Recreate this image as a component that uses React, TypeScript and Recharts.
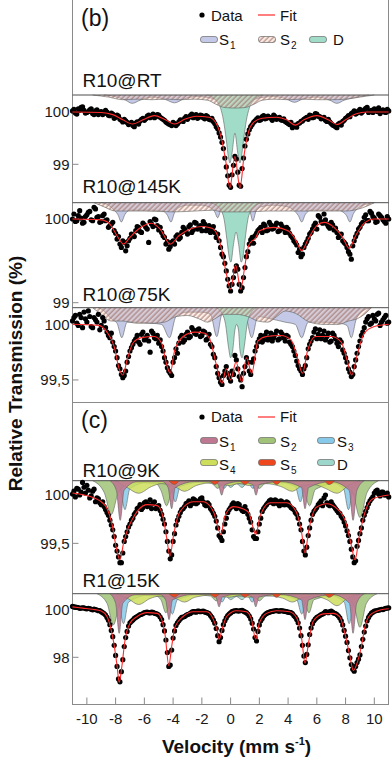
import React from "react";
import { ComposedChart, Scatter, Line, Area, XAxis, YAxis, ReferenceLine } from "recharts";

type Pair = [number, number];

// channel velocities (mm/s): even and odd channels
const velocity = [
  -11, -10.8, -10.6, -10.4, -10.2, -10, -9.8, -9.6, -9.4, -9.2,
  -9, -8.8, -8.6, -8.4, -8.2, -8, -7.8, -7.6, -7.4, -7.2,
  -7, -6.8, -6.6, -6.4, -6.2, -6, -5.8, -5.6, -5.4, -5.2,
  -5, -4.8, -4.6, -4.4, -4.2, -4, -3.8, -3.6, -3.4, -3.2,
  -3, -2.8, -2.6, -2.4, -2.2, -2, -1.8, -1.6, -1.4, -1.2,
  -1, -0.8, -0.6, -0.4, -0.2, 0, 0.2, 0.4, 0.6, 0.8,
  1, 1.2, 1.4, 1.6, 1.8, 2, 2.2, 2.4, 2.6, 2.8,
  3, 3.2, 3.4, 3.6, 3.8, 4, 4.2, 4.4, 4.6, 4.8,
  5, 5.2, 5.4, 5.6, 5.8, 6, 6.2, 6.4, 6.6, 6.8,
  7, 7.2, 7.4, 7.6, 7.8, 8, 8.2, 8.4, 8.6, 8.8,
  9, 9.2, 9.4, 9.6, 9.8, 10, 10.2, 10.4, 10.6, 10.8,
  11,
];
const velocityOdd = [
  -10.9, -10.7, -10.5, -10.3, -10.1, -9.9, -9.7, -9.5, -9.3, -9.1,
  -8.9, -8.7, -8.5, -8.3, -8.1, -7.9, -7.7, -7.5, -7.3, -7.1,
  -6.9, -6.7, -6.5, -6.3, -6.1, -5.9, -5.7, -5.5, -5.3, -5.1,
  -4.9, -4.7, -4.5, -4.3, -4.1, -3.9, -3.7, -3.5, -3.3, -3.1,
  -2.9, -2.7, -2.5, -2.3, -2.1, -1.9, -1.7, -1.5, -1.3, -1.1,
  -0.9, -0.7, -0.5, -0.3, -0.1, 0.1, 0.3, 0.5, 0.7, 0.9,
  1.1, 1.3, 1.5, 1.7, 1.9, 2.1, 2.3, 2.5, 2.7, 2.9,
  3.1, 3.3, 3.5, 3.7, 3.9, 4.1, 4.3, 4.5, 4.7, 4.9,
  5.1, 5.3, 5.5, 5.7, 5.9, 6.1, 6.3, 6.5, 6.7, 6.9,
  7.1, 7.3, 7.5, 7.7, 7.9, 8.1, 8.3, 8.5, 8.7, 8.9,
  9.1, 9.3, 9.5, 9.7, 9.9, 10.1, 10.3, 10.5, 10.7, 10.9,
];
const velocityTicks = [-10, -8, -6, -4, -2, 0, 2, 4, 6, 8, 10];

// ---- panel (b) ----
const rtObs = [
  100.02, 99.98, 100.06, 100.09, 100.03, 99.99, 100.04, 99.97, 100.02, 99.95,
  100.01, 99.97, 100.0, 99.93, 99.96, 99.9, 99.92, 99.84, 99.86, 99.8,
  99.78, 99.74, 99.79, 99.77, 99.86, 99.84, 99.92, 99.89, 99.96, 99.91,
  99.94, 99.88, 99.84, 99.79, 99.76, 99.8, 99.74, 99.81, 99.84, 99.88,
  99.86, 99.93, 99.89, 99.95, 99.9, 99.93, 99.87, 99.91, 99.85, 99.82,
  99.72, 99.6, 99.42, 99.12, 98.78, 98.56, 98.98, 99.1, 98.6, 98.92,
  99.35, 99.58, 99.72, 99.8, 99.86, 99.84, 99.91, 99.87, 99.92, 99.88,
  99.94, 99.86, 99.9, 99.84, 99.82, 99.78, 99.8, 99.73, 99.71, 99.79,
  99.83, 99.88, 99.86, 99.93, 99.9, 99.96, 99.91, 99.88, 99.84, 99.86,
  99.78, 99.74, 99.7, 99.79, 99.82, 99.88, 99.93, 99.97, 100.02, 99.98,
  100.05, 100.01, 100.07, 99.99, 100.03, 100.06, 100.01, 99.97, 100.04, 99.99,
  100.02,
];
const rtObsOdd = [
  100.05, 99.96, 100.03, 100.1, 99.98, 100.01, 100.06, 99.95, 100.04, 100.0,
  99.95, 100.03, 99.94, 99.98, 99.88, 99.94, 99.86, 99.81, 99.83, 99.76,
  99.8, 99.72, 99.81, 99.83, 99.88, 99.87, 99.94, 99.92, 99.89, 99.95,
  99.9, 99.86, 99.81, 99.77, 99.74, 99.78, 99.77, 99.85, 99.82, 99.91,
  99.9, 99.96, 99.92, 99.88, 99.94, 99.89, 99.93, 99.86, 99.88, 99.78,
  99.68, 99.52, 99.3, 98.95, 98.6, 98.8, 99.15, 98.85, 98.58, 99.12,
  99.48, 99.66, 99.76, 99.83, 99.89, 99.85, 99.93, 99.88, 99.9, 99.84,
  99.91, 99.88, 99.85, 99.87, 99.8, 99.76, 99.7, 99.75, 99.78, 99.82,
  99.86, 99.9, 99.94, 99.89, 99.97, 99.92, 99.87, 99.9, 99.82, 99.81,
  99.75, 99.72, 99.77, 99.75, 99.84, 99.9, 99.91, 99.99, 99.96, 100.02,
  99.98, 100.04, 100.09, 100.02, 99.99, 100.04, 100.08, 100.02, 100.0, 100.05,
];
const rtFit: Pair[] = [
  [-11, 100.0], [-9, 99.99], [-8.2, 99.95], [-7.5, 99.85], [-6.8, 99.77], [-6.1, 99.85],
  [-5.3, 99.93], [-4.6, 99.86], [-3.9, 99.77], [-3.2, 99.86], [-2.4, 99.92], [-1.5, 99.9],
  [-1.0, 99.78], [-0.6, 99.45], [-0.3, 99.0], [-0.05, 98.55], [0.3, 99.15], [0.65, 98.55],
  [0.95, 99.2], [1.25, 99.62], [1.6, 99.8], [2.2, 99.88], [3.2, 99.9], [3.9, 99.85],
  [4.5, 99.75], [5.1, 99.85], [6.0, 99.93], [6.8, 99.85], [7.4, 99.76], [8.0, 99.85],
  [8.7, 99.96], [9.5, 100.0], [11, 100.0],
];
const rtS1: Pair[] = [
  [-8.8, 0], [-7.8, 0.05], [-7.3, 0.1], [-6.85, 0.16], [-6.3, 0.1], [-5.4, 0.04], [-4.5, 0.09],
  [-3.9, 0.15], [-3.3, 0.08], [-2.3, 0.03], [-1.5, 0.05], [-1.0, 0.08], [-0.5, 0.05], [0.3, 0.03],
  [1.1, 0.05], [1.6, 0.08], [2.1, 0.05], [3.0, 0.03], [3.9, 0.08], [4.45, 0.14], [5.0, 0.08],
  [6.0, 0.04], [6.9, 0.1], [7.4, 0.16], [7.9, 0.1], [8.8, 0.04], [9.6, 0],
];
const rtS2: Pair[] = [
  [-9.6, 0], [-8.5, 0.04], [-7.5, 0.09], [-6.5, 0.08], [-5.5, 0.09], [-4.5, 0.08], [-3.5, 0.09],
  [-2.5, 0.08], [-1.6, 0.1], [-1.0, 0.18], [-0.4, 0.24], [0.3, 0.25], [1.0, 0.24], [1.6, 0.18],
  [2.2, 0.1], [3.0, 0.08], [4.0, 0.09], [5.0, 0.08], [6.0, 0.09], [7.0, 0.09], [8.0, 0.08],
  [9.0, 0.04], [10.0, 0],
];
const rtD: Pair[] = [
  [-1.6, 0], [-1.0, 0.11], [-0.7, 0.25], [-0.5, 0.48], [-0.3, 0.86], [-0.15, 1.19], [-0.05, 1.3],
  [0.1, 1.11], [0.3, 0.73], [0.5, 1.11], [0.65, 1.3], [0.75, 1.19], [0.9, 0.86], [1.1, 0.48],
  [1.3, 0.25], [1.6, 0.11], [2.2, 0],
];

const k145Obs = [
  100.0, 99.97, 100.04, 100.01, 99.96, 100.05, 100.09, 99.98, 100.12, 100.03,
  99.97, 100.06, 99.99, 99.92, 99.96, 99.83, 99.79, 99.66, 99.72, 99.68,
  99.77, 99.81, 99.86, 99.9, 99.84, 99.93, 99.88, 99.97, 99.91, 99.99,
  99.87, 99.84, 99.78, 99.73, 99.67, 99.74, 99.79, 99.76, 99.84, 99.88,
  99.82, 99.93, 99.87, 99.95, 99.9, 99.86, 99.94, 99.89, 99.84, 99.91,
  99.78, 99.74, 99.58, 99.47, 99.28, 99.14, 99.3, 99.44, 99.22, 99.18,
  99.42, 99.61, 99.75, 99.71, 99.83, 99.88, 99.84, 99.92, 99.87, 99.93,
  99.89, 99.95, 99.86, 99.91, 99.84, 99.88, 99.8, 99.74, 99.69, 99.64,
  99.58, 99.7, 99.77, 99.84, 99.92, 99.88, 100.02, 99.95, 99.99, 99.91,
  99.96, 99.87, 99.84, 99.8, 99.74, 99.7, 99.61, 99.52, 99.74, 99.83,
  99.9, 99.96, 100.05, 99.98, 100.07, 100.01, 99.97, 100.04, 99.99, 99.95,
  100.0,
];
const k145ObsOdd = [
  100.06, 99.98, 100.1, 99.95, 100.03, 100.08, 99.99, 100.14, 100.02, 99.96,
  100.04, 99.98, 99.9, 99.94, 99.86, 99.76, 99.7, 99.74, 99.62, 99.74,
  99.82, 99.79, 99.91, 99.85, 99.95, 99.9, 99.72, 99.94, 100.0, 99.92,
  99.9, 99.8, 99.7, 99.64, 99.72, 99.7, 99.81, 99.78, 99.9, 99.85,
  99.91, 99.84, 99.96, 99.88, 99.92, 99.97, 99.86, 99.92, 99.88, 99.84,
  99.82, 99.66, 99.55, 99.38, 99.2, 99.22, 99.38, 99.4, 99.14, 99.3,
  99.55, 99.7, 99.78, 99.8, 99.86, 99.9, 99.94, 99.86, 99.96, 99.88,
  99.92, 99.85, 99.94, 99.88, 99.9, 99.83, 99.78, 99.72, 99.6, 99.55,
  99.66, 99.73, 99.82, 99.88, 99.95, 100.04, 99.97, 100.06, 99.94, 99.89,
  99.93, 99.89, 99.78, 99.82, 99.72, 99.66, 99.58, 99.68, 99.79, 99.88,
  99.94, 100.02, 99.98, 100.09, 100.03, 99.96, 100.06, 100.02, 99.97, 100.03,
];
const k145Fit: Pair[] = [
  [-11, 100.0], [-9, 99.99], [-8.4, 99.94], [-7.9, 99.8], [-7.45, 99.7], [-7.0, 99.78],
  [-6.4, 99.88], [-5.5, 99.95], [-4.9, 99.88], [-4.2, 99.7], [-3.6, 99.8], [-2.8, 99.88],
  [-2.0, 99.91], [-1.3, 99.89], [-0.9, 99.8], [-0.6, 99.62], [-0.3, 99.35], [0.0, 99.16],
  [0.35, 99.45], [0.7, 99.16], [1.0, 99.45], [1.25, 99.68], [1.5, 99.74], [1.7, 99.76],
  [2.0, 99.86], [3.0, 99.9], [4.0, 99.86], [4.5, 99.76], [4.95, 99.62], [5.4, 99.76],
  [6.0, 99.92], [6.5, 99.96], [7.2, 99.9], [7.8, 99.78], [8.25, 99.65], [8.7, 99.8],
  [9.3, 99.95], [10, 100.0], [11, 100.0],
];
const k145S1: Pair[] = [
  [-9.0, 0], [-8.5, 0.03], [-8.1, 0.09], [-7.85, 0.14], [-7.6, 0.23], [-7.35, 0.14], [-7.0, 0.09],
  [-6.5, 0.09], [-5.5, 0.09], [-4.7, 0.1], [-4.4, 0.15], [-4.15, 0.23], [-3.9, 0.12], [-3.5, 0.05],
  [-3.0, 0.03], [-2.0, 0.03], [-1.4, 0.06], [-1.1, 0.11], [-0.9, 0.18], [-0.7, 0.1], [-0.4, 0.05],
  [0.3, 0.04], [1.0, 0.05], [1.35, 0.11], [1.55, 0.22], [1.75, 0.11], [2.1, 0.05], [3.0, 0.03],
  [4.0, 0.05], [4.45, 0.1], [4.7, 0.15], [4.95, 0.23], [5.2, 0.14], [5.6, 0.09], [6.5, 0.09],
  [7.5, 0.09], [7.8, 0.11], [8.05, 0.15], [8.3, 0.23], [8.55, 0.13], [8.9, 0.06], [9.4, 0.02],
  [10, 0],
];
const k145S2: Pair[] = [
  [-9.5, 0], [-8.8, 0.05], [-8, 0.1], [-6, 0.1], [-4, 0.11], [-2.5, 0.1], [-1.2, 0.09],
  [-0.6, 0.11], [0.3, 0.11], [1.2, 0.11], [2.5, 0.1], [4.5, 0.1], [6, 0.1], [8, 0.1],
  [9.2, 0.06], [10, 0],
];
const k145D: Pair[] = [
  [-1.4, 0], [-1.0, 0.03], [-0.7, 0.08], [-0.45, 0.2], [-0.25, 0.45], [-0.1, 0.65], [0.02, 0.71],
  [0.2, 0.5], [0.38, 0.35], [0.56, 0.5], [0.74, 0.71], [0.86, 0.65], [1.0, 0.45], [1.2, 0.2],
  [1.45, 0.08], [1.75, 0.03], [2.2, 0],
];

const k75Obs = [
  100.03, 100.08, 99.99, 100.06, 100.11, 100.02, 100.07, 99.97, 100.04, 100.09,
  99.99, 100.03, 99.93, 99.88, 99.84, 99.76, 99.63, 99.55, 99.54, 99.66,
  99.76, 99.82, 99.87, 99.84, 99.91, 99.86, 99.9, 99.75, 99.92, 99.87,
  99.83, 99.8, 99.7, 99.61, 99.56, 99.66, 99.78, 99.83, 99.9, 99.86,
  99.93, 99.89, 99.95, 99.91, 99.96, 99.9, 99.93, 99.87, 99.82, 99.73,
  99.62, 99.52, 99.46, 99.58, 99.56, 99.49, 99.55, 99.68, 99.53, 99.44,
  99.62, 99.66, 99.55, 99.69, 99.8, 99.87, 99.84, 99.9, 99.86, 99.92,
  99.88, 99.94, 99.87, 99.91, 99.85, 99.89, 99.82, 99.76, 99.67, 99.6,
  99.55, 99.63, 99.78, 99.85, 99.93, 99.87, 99.95, 99.9, 99.86, 99.92,
  99.85, 99.9, 99.83, 99.86, 99.77, 99.7, 99.6, 99.53, 99.62, 99.74,
  99.85, 99.93, 100.02, 100.07, 100.01, 100.05, 100.09, 99.99, 100.04, 100.08,
  100.02,
];
const k75ObsOdd = [
  100.06, 100.01, 100.09, 99.97, 100.05, 100.12, 99.98, 100.06, 100.02, 99.95,
  100.06, 99.97, 99.9, 99.92, 99.8, 99.7, 99.6, 99.52, 99.58, 99.71,
  99.79, 99.85, 99.9, 99.82, 99.93, 99.88, 99.85, 99.94, 99.88, 99.9,
  99.86, 99.76, 99.66, 99.58, 99.54, 99.7, 99.74, 99.88, 99.84, 99.91,
  99.88, 99.97, 99.92, 99.95, 99.89, 99.94, 99.86, 99.91, 99.8, 99.7,
  99.56, 99.48, 99.54, 99.62, 99.52, 99.58, 99.72, 99.6, 99.5, 99.56,
  99.7, 99.58, 99.66, 99.76, 99.84, 99.9, 99.86, 99.93, 99.88, 99.85,
  99.91, 99.86, 99.93, 99.88, 99.9, 99.84, 99.8, 99.72, 99.63, 99.58,
  99.6, 99.7, 99.82, 99.88, 99.96, 99.91, 99.87, 99.94, 99.89, 99.84,
  99.92, 99.87, 99.8, 99.84, 99.74, 99.66, 99.57, 99.55, 99.68, 99.8,
  99.9, 99.97, 100.05, 100.0, 100.08, 100.03, 100.1, 100.02, 100.06, 100.01,
];
const k75Fit: Pair[] = [
  [-11, 100.0], [-9.2, 99.99], [-8.6, 99.93], [-8.1, 99.8], [-7.75, 99.6], [-7.5, 99.545],
  [-7.2, 99.68], [-6.8, 99.83], [-6.2, 99.88], [-5.3, 99.89], [-4.8, 99.83], [-4.45, 99.64],
  [-4.2, 99.56], [-3.9, 99.76], [-3.3, 99.89], [-2.5, 99.93], [-1.8, 99.92], [-1.4, 99.85],
  [-1.0, 99.64], [-0.6, 99.47], [-0.3, 99.6], [0.0, 99.5], [0.38, 99.66], [0.78, 99.48],
  [1.1, 99.7], [1.47, 99.56], [1.9, 99.85], [2.5, 99.89], [3.5, 99.9], [4.2, 99.86],
  [4.65, 99.7], [5.0, 99.56], [5.35, 99.76], [5.9, 99.89], [7.0, 99.89], [7.7, 99.84],
  [8.1, 99.68], [8.43, 99.545], [8.8, 99.72], [9.3, 99.92], [10, 99.98], [11, 100.0],
];
const k75S1: Pair[] = [
  [-9.2, 0], [-8.8, 0.03], [-8.3, 0.1], [-7.9, 0.14], [-7.57, 0.27], [-7.2, 0.13], [-6.5, 0.13],
  [-5.5, 0.14], [-4.8, 0.15], [-4.25, 0.27], [-3.8, 0.08], [-3.0, 0.04], [-2.0, 0.04], [-1.4, 0.06],
  [-0.96, 0.26], [-0.6, 0.06], [0.2, 0.04], [1.0, 0.06], [1.47, 0.27], [1.9, 0.08], [2.8, 0.1],
  [3.8, 0.13], [4.5, 0.15], [4.95, 0.27], [5.4, 0.13], [6.5, 0.13], [7.6, 0.14], [8.1, 0.16],
  [8.4, 0.27], [8.75, 0.1], [9.3, 0.02], [9.8, 0],
];
const k75S2: Pair[] = [
  [-9.6, 0], [-9.0, 0.06], [-8.3, 0.12], [-7.5, 0.12], [-6.5, 0.14], [-5.5, 0.14], [-4.6, 0.13],
  [-3.8, 0.08], [-3.0, 0.07], [-2.2, 0.1], [-1.6, 0.13], [-1.1, 0.1], [-0.5, 0.06], [0.4, 0.06],
  [1.2, 0.08], [1.9, 0.12], [2.6, 0.13], [3.2, 0.08], [3.8, 0.03], [4.5, 0.05], [5.5, 0.13],
  [6.5, 0.15], [7.5, 0.15], [8.2, 0.12], [8.8, 0.1], [9.3, 0.06], [9.8, 0],
];
const k75D: Pair[] = [
  [-1.0, 0], [-0.6, 0.05], [-0.35, 0.15], [-0.15, 0.35], [0.0, 0.45], [0.15, 0.38], [0.3, 0.2],
  [0.42, 0.15], [0.55, 0.2], [0.65, 0.38], [0.8, 0.45], [0.95, 0.35], [1.15, 0.15], [1.4, 0.05],
  [1.8, 0],
];

// ---- panel (c) ----
const k9Obs = [
  100.01, 99.98, 100.06, 100.03, 100.08, 100.1, 99.97, 100.04, 99.93, 99.96,
  99.9, 99.88, 99.82, 99.74, 99.64, 99.48, 99.36, 99.3, 99.52, 99.62,
  99.7, 99.76, 99.82, 99.87, 99.85, 99.92, 99.88, 99.95, 99.91, 99.86,
  99.89, 99.8, 99.7, 99.52, 99.34, 99.52, 99.69, 99.78, 99.85, 99.88,
  99.92, 99.89, 99.96, 99.91, 99.94, 99.97, 99.9, 99.92, 99.86, 99.81,
  99.73, 99.58, 99.53, 99.7, 99.82, 99.87, 99.92, 99.86, 99.9, 99.84,
  99.88, 99.8, 99.72, 99.57, 99.55, 99.7, 99.83, 99.88, 99.92, 99.95,
  99.91, 99.94, 99.89, 99.93, 99.9, 99.92, 99.87, 99.85, 99.8, 99.7,
  99.52, 99.38, 99.58, 99.74, 99.83, 99.87, 99.92, 99.89, 100.0, 99.9,
  99.93, 99.88, 99.84, 99.81, 99.76, 99.68, 99.58, 99.44, 99.3, 99.47,
  99.6, 99.74, 99.83, 99.91, 99.96, 100.02, 100.05, 99.99, 100.03, 100.0,
  99.98,
];
const k9ObsOdd = [
  100.04, 100.07, 100.0, 100.13, 100.02, 100.05, 99.99, 100.06, 99.97, 99.92,
  99.93, 99.85, 99.79, 99.69, 99.57, 99.42, 99.3, 99.4, 99.57, 99.67,
  99.74, 99.8, 99.86, 99.9, 99.87, 99.93, 99.9, 99.86, 99.93, 99.88,
  99.84, 99.75, 99.62, 99.42, 99.38, 99.6, 99.74, 99.82, 99.86, 99.91,
  99.94, 99.91, 99.95, 99.92, 99.96, 99.93, 99.89, 99.9, 99.84, 99.78,
  99.66, 99.56, 99.62, 99.76, 99.85, 99.9, 99.88, 99.91, 99.86, 99.83,
  99.84, 99.76, 99.64, 99.55, 99.62, 99.76, 99.86, 99.9, 99.94, 99.92,
  99.95, 99.91, 99.94, 99.9, 99.93, 99.89, 99.86, 99.82, 99.76, 99.64,
  99.42, 99.46, 99.66, 99.8, 99.85, 99.9, 99.94, 99.97, 99.92, 99.89,
  99.9, 99.86, 99.82, 99.78, 99.72, 99.63, 99.52, 99.36, 99.32, 99.53,
  99.66, 99.79, 99.87, 99.94, 99.98, 100.04, 100.01, 100.03, 100.0, 100.02,
];
const k9Fit: Pair[] = [
  [-11, 100.02], [-10.2, 100.0], [-9.5, 99.97], [-9.0, 99.93], [-8.6, 99.86], [-8.25, 99.7],
  [-7.95, 99.45], [-7.7, 99.33], [-7.45, 99.5], [-7.15, 99.65], [-6.9, 99.73], [-6.5, 99.83],
  [-5.8, 99.9], [-5.1, 99.89], [-4.7, 99.77], [-4.45, 99.56], [-4.22, 99.37], [-3.95, 99.6],
  [-3.55, 99.82], [-2.6, 99.93], [-1.9, 99.93], [-1.2, 99.83], [-0.88, 99.67], [-0.68, 99.59],
  [-0.4, 99.78], [0.2, 99.88], [0.8, 99.86], [1.25, 99.82], [1.55, 99.67], [1.75, 99.59],
  [2.05, 99.78], [2.75, 99.92], [3.9, 99.92], [4.55, 99.83], [4.93, 99.62], [5.18, 99.4],
  [5.42, 99.62], [5.95, 99.87], [6.7, 99.91], [7.4, 99.86], [8.05, 99.7], [8.4, 99.48],
  [8.66, 99.33], [8.95, 99.57], [9.35, 99.82], [9.9, 99.96], [11, 100.0],
];
const k9S1: Pair[] = [
  [-8.4, 0], [-7.95, 0.1], [-7.68, 0.41], [-7.41, 0.1], [-6.5, 0.01], [-4.75, 0.01], [-4.35, 0.07],
  [-4.1, 0.29], [-3.85, 0.07], [-2.5, 0.01], [-1.1, 0.01], [-0.85, 0.04], [-0.62, 0.15], [-0.39, 0.04],
  [0.6, 0.01], [1.54, 0.04], [1.77, 0.15], [2.0, 0.04], [3.5, 0.01], [4.93, 0.07], [5.18, 0.29],
  [5.43, 0.07], [7.0, 0.01], [8.25, 0.1], [8.52, 0.41], [8.79, 0.1], [9.3, 0],
];
const k9S2: Pair[] = [
  [-9.6, 0], [-8.8, 0.12], [-8.3, 0.35], [-7.8, 0.12], [-6.9, 0.02], [-5.2, 0.03], [-4.85, 0.1],
  [-4.45, 0.26], [-4.05, 0.09], [-2.6, 0.01], [-1.3, 0.03], [-0.9, 0.08], [-0.5, 0.03], [1.6, 0.03],
  [2.0, 0.08], [2.4, 0.03], [4.5, 0.02], [5.1, 0.1], [5.5, 0.26], [5.9, 0.09], [7.6, 0.02],
  [8.5, 0.13], [9.0, 0.38], [9.5, 0.12], [10.3, 0],
];
const k9S3: Pair[] = [
  [-8.3, 0], [-7.7, 0.08], [-7.35, 0.3], [-7.0, 0.08], [-5.5, 0.01], [-4.2, 0.06], [-3.85, 0.22],
  [-3.5, 0.06], [-1.8, 0.01], [-0.75, 0.03], [-0.45, 0.08], [-0.15, 0.03], [0.6, 0.01], [1.25, 0.03],
  [1.55, 0.08], [1.85, 0.03], [3.2, 0.01], [4.5, 0.06], [4.85, 0.22], [5.2, 0.06], [6.8, 0.01],
  [7.85, 0.08], [8.2, 0.3], [8.55, 0.08], [9.3, 0],
];
const k9S4: Pair[] = [
  [-8.0, 0], [-7.2, 0.07], [-6.4, 0.13], [-5.5, 0.06], [-4.8, 0.03], [-3.9, 0.06], [-3.2, 0.11],
  [-2.4, 0.05], [-1.2, 0.02], [-0.1, 0.05], [0.6, 0.03], [1.3, 0.05], [2.4, 0.03], [3.5, 0.06],
  [4.3, 0.11], [5.0, 0.05], [5.8, 0.04], [6.6, 0.08], [7.4, 0.13], [8.2, 0.05], [9.0, 0],
];
const k9S5: Pair[] = [
  [-4.3, 0], [-3.9, 0.04], [-3.5, 0], [-1.5, 0], [-1.1, 0.04], [-0.7, 0], [0.6, 0], [1.0, 0.04],
  [1.4, 0], [2.8, 0], [3.2, 0.04], [3.6, 0], [6.45, 0], [6.85, 0.04], [7.25, 0],
];
const k9D: Pair[] = [
  [-1.0, 0], [-0.35, 0.02], [0.0, 0.07], [0.4, 0.03], [0.8, 0.07], [1.15, 0.02], [1.8, 0],
];

const k15Obs = [
  100.12, 100.09, 100.07, 100.05, 100.06, 100.02, 100.03, 99.98, 99.99, 99.94,
  99.9, 99.82, 99.66, 99.36, 98.86, 98.08, 97.1, 97.4, 98.45, 99.08,
  99.44, 99.55, 99.66, 99.74, 99.79, 99.86, 99.88, 99.85, 99.87, 99.82,
  99.76, 99.57, 99.1, 98.2, 97.68, 98.8, 99.33, 99.52, 99.66, 99.7,
  99.78, 99.83, 99.9, 99.88, 99.93, 99.91, 99.89, 99.85, 99.74, 99.55,
  99.2, 98.65, 99.12, 99.52, 99.74, 99.85, 99.92, 99.95, 99.93, 99.96,
  99.89, 99.8, 99.6, 99.18, 98.68, 99.35, 99.62, 99.78, 99.86, 99.9,
  99.93, 99.95, 99.92, 99.94, 99.91, 99.88, 99.86, 99.74, 99.58, 99.22,
  98.5, 97.78, 98.52, 99.22, 99.52, 99.66, 99.74, 99.8, 99.9, 99.86,
  99.92, 99.84, 99.78, 99.64, 99.35, 98.88, 98.28, 97.7, 97.42, 97.78,
  98.1, 98.75, 99.3, 99.66, 99.84, 99.92, 99.95, 99.98, 99.99, 100.04,
  100.06,
];
const k15ObsOdd = [
  100.1, 100.08, 100.04, 100.06, 100.03, 100.04, 100.0, 100.01, 99.97, 99.95,
  99.86, 99.76, 99.54, 99.12, 98.5, 97.62, 96.98, 97.9, 98.82, 99.3,
  99.5, 99.62, 99.7, 99.78, 99.82, 99.87, 99.86, 99.88, 99.84, 99.8,
  99.68, 99.36, 98.72, 97.62, 98.3, 99.1, 99.44, 99.6, 99.68, 99.75,
  99.8, 99.88, 99.9, 99.92, 99.9, 99.92, 99.87, 99.82, 99.66, 99.42,
  98.9, 98.82, 99.36, 99.64, 99.8, 99.9, 99.94, 99.93, 99.95, 99.92,
  99.86, 99.72, 99.42, 98.82, 99.08, 99.52, 99.72, 99.83, 99.88, 99.91,
  99.94, 99.93, 99.95, 99.92, 99.9, 99.87, 99.82, 99.68, 99.44, 98.9,
  98.05, 98.12, 98.95, 99.4, 99.6, 99.7, 99.78, 99.84, 99.88, 99.9,
  99.88, 99.82, 99.72, 99.52, 99.12, 98.62, 97.98, 97.5, 97.62, 97.92,
  98.45, 99.05, 99.52, 99.76, 99.88, 99.94, 99.97, 100.0, 100.02, 100.05,
];
const k15Fit: Pair[] = [
  [-11, 100.1], [-10.3, 100.05], [-9.6, 100.0], [-9.0, 99.93], [-8.6, 99.7], [-8.35, 99.25],
  [-8.1, 98.5], [-7.9, 97.65], [-7.75, 96.95], [-7.57, 97.6], [-7.35, 98.7], [-7.0, 99.42],
  [-6.5, 99.7], [-5.8, 99.86], [-5.1, 99.83], [-4.8, 99.58], [-4.55, 98.9], [-4.3, 97.65],
  [-4.1, 98.45], [-3.86, 99.28], [-3.3, 99.7], [-2.6, 99.9], [-1.65, 99.9], [-1.2, 99.58],
  [-0.95, 99.15], [-0.8, 98.75], [-0.6, 99.15], [-0.27, 99.7], [0.4, 99.94], [1.1, 99.9],
  [1.45, 99.58], [1.75, 98.75], [2.0, 99.42], [2.5, 99.83], [3.2, 99.94], [4.1, 99.9],
  [4.6, 99.64], [4.95, 98.75], [5.18, 97.75], [5.42, 98.6], [5.75, 99.5], [6.45, 99.81],
  [7.15, 99.83], [7.6, 99.68], [7.95, 99.0], [8.3, 98.05], [8.54, 97.45], [8.85, 97.85],
  [9.1, 98.45], [9.35, 99.28], [9.7, 99.76], [10.4, 99.97], [11, 100.02],
];
const k15S1: Pair[] = [
  [-8.4, 0], [-8.0, 0.4], [-7.75, 1.65], [-7.5, 0.4], [-6.6, 0.04], [-4.9, 0.04], [-4.52, 0.26],
  [-4.28, 1.08], [-4.04, 0.26], [-2.6, 0.03], [-1.3, 0.03], [-1.02, 0.14], [-0.8, 0.55], [-0.58, 0.14],
  [0.5, 0.02], [1.53, 0.14], [1.75, 0.55], [1.97, 0.14], [3.4, 0.03], [4.94, 0.26], [5.18, 1.08],
  [5.42, 0.26], [7.1, 0.04], [8.27, 0.4], [8.52, 1.65], [8.77, 0.4], [9.3, 0],
];
const k15S2: Pair[] = [
  [-9.3, 0], [-8.6, 0.4], [-8.15, 1.3], [-7.7, 0.4], [-6.8, 0.06], [-5.2, 0.1], [-4.85, 0.25],
  [-4.5, 0.8], [-4.15, 0.25], [-2.6, 0.04], [-1.4, 0.1], [-1.0, 0.3], [-0.6, 0.1], [1.6, 0.1],
  [2.0, 0.3], [2.4, 0.1], [4.3, 0.06], [5.1, 0.25], [5.45, 0.8], [5.8, 0.25], [7.6, 0.06],
  [8.55, 0.45], [9.0, 1.4], [9.45, 0.4], [10.2, 0],
];
const k15S3: Pair[] = [
  [-8.3, 0], [-7.8, 0.35], [-7.45, 1.25], [-7.1, 0.35], [-5.6, 0.05], [-4.4, 0.25], [-4.05, 0.85],
  [-3.7, 0.25], [-2.0, 0.04], [-0.9, 0.1], [-0.6, 0.35], [-0.3, 0.1], [0.45, 0.03], [1.2, 0.1],
  [1.5, 0.35], [1.8, 0.1], [3.2, 0.04], [4.6, 0.25], [4.95, 0.85], [5.3, 0.25], [6.8, 0.05],
  [7.9, 0.35], [8.25, 1.25], [8.6, 0.35], [9.4, 0],
];
const k15S4: Pair[] = [
  [-7.9, 0], [-7.1, 0.22], [-6.4, 0.45], [-5.6, 0.2], [-4.9, 0.1], [-3.9, 0.18], [-3.2, 0.35],
  [-2.5, 0.15], [-1.3, 0.06], [-0.1, 0.15], [0.6, 0.08], [1.3, 0.15], [2.3, 0.08], [3.6, 0.18],
  [4.3, 0.35], [5.0, 0.16], [5.9, 0.12], [6.7, 0.25], [7.4, 0.5], [8.1, 0.2], [9.0, 0],
];
const k15S5: Pair[] = [
  [-4.3, 0], [-3.9, 0.15], [-3.5, 0], [-1.5, 0], [-1.1, 0.15], [-0.7, 0], [0.6, 0], [1.0, 0.15],
  [1.4, 0], [2.8, 0], [3.2, 0.15], [3.6, 0], [6.45, 0], [6.85, 0.15], [7.25, 0],
];
const k15D: Pair[] = [
  [-1.0, 0], [-0.35, 0.08], [0.0, 0.25], [0.4, 0.12], [0.8, 0.25], [1.15, 0.08], [1.8, 0],
];

const FONT = '"Liberation Sans", Arial, Helvetica, sans-serif';
const AXIS = "#8a8a8a";
const FIT = "#ff2a2a";
const W = 392;
const PLOT_L = 72.5;
const PLOT_R = 388.7;

const col = {
  s1b: "#c3c9e6",
  dB: "#a0dcc8",
  s1: "#be7891",
  s2: "#a0c378",
  s3: "#86c9e8",
  s4: "#cdde5a",
  s5: "#f0461e",
  d: "#9dd6ca",
};

type Comp = { pairs: Pair[]; fill: string; opacity?: number };

interface SpectrumProps {
  top: number;
  bottom: number;
  zero: number; // pixel row of 100 %
  pxPer: number; // pixels per 1 %
  sep: number; // pixel row of the sub-spectra baseline
  ticks: number[];
  obs: number[];
  obsOdd: number[];
  fit: Pair[];
  comps: Comp[];
  axis?: "none" | "ticks" | "labels";
}

const dot = (p: any) => <circle cx={p.cx} cy={p.cy} r={2.6} fill="#000" />;

function Spectrum({ top, bottom, zero, pxPer, sep, ticks, obs, obsOdd, fit, comps, axis = "none" }: SpectrumProps) {
  const xh = axis === "labels" ? 32 : axis === "ticks" ? 2 : 0;
  const h = bottom - top + xh;
  const domain = [100 - (bottom - zero) / pxPer, 100 + (zero - top) / pxPer];
  const base = 100 + (zero - sep) / pxPer;
  const obsRows = [
    ...velocity.map((v, i) => ({ v, y: obs[i] })),
    ...velocityOdd.map((v, i) => ({ v, y: obsOdd[i] })),
  ];
  const fitRows = fit.map(([v, y]) => ({ v, y }));
  const margin = { top: 0, right: W - PLOT_R, bottom: 0, left: 0 };
  return (
    <>
      <div style={{ position: "absolute", left: 0, top }}>
        <ComposedChart width={W} height={h} margin={margin}>
          <XAxis
            type="number"
            dataKey="v"
            domain={[-11, 11]}
            ticks={velocityTicks}
            interval={0}
            hide={axis === "none"}
            height={xh}
            axisLine={false}
            tickLine={{ stroke: AXIS }}
            tickSize={-7}
            tickMargin={16}
            tick={axis === "labels" ? { fontSize: 15, fill: "#1a1a1a", fontFamily: FONT } : false}
          />
          <YAxis
            type="number"
            dataKey="y"
            domain={domain}
            ticks={ticks}
            interval={0}
            width={PLOT_L}
            axisLine={false}
            tickLine={{ stroke: AXIS }}
            tickSize={-6}
            tickMargin={9}
            tick={{ fontSize: 15, fill: "#1a1a1a", fontFamily: FONT }}
            tickFormatter={(t: number) => String(t).replace(".", ",")}
          />
          {comps.map((c, i) => (
            <Area
              key={i}
              data={c.pairs.map(([v, d]) => ({ v, y: base - d }))}
              dataKey="y"
              type="monotone"
              baseValue={base}
              fill={c.fill}
              fillOpacity={c.opacity ?? 1}
              stroke="#5f5f5f"
              strokeWidth={0.6}
              isAnimationActive={false}
            />
          ))}
          <ReferenceLine y={base} stroke="#4d4d4d" strokeWidth={1} />
          <Scatter data={obsRows} shape={dot} isAnimationActive={false} />
        </ComposedChart>
      </div>
      {/* fit drawn in its own layer so it stays above the points */}
      <div style={{ position: "absolute", left: 0, top }}>
        <ComposedChart width={W} height={h} margin={margin}>
          <XAxis type="number" dataKey="v" domain={[-11, 11]} hide={axis === "none"} height={xh} axisLine={false} tickLine={false} tick={false} />
          <YAxis type="number" dataKey="y" domain={domain} width={PLOT_L} axisLine={false} tickLine={false} tick={false} />
          <Line data={fitRows} dataKey="y" type="monotone" stroke={FIT} strokeWidth={1.1} dot={false} isAnimationActive={false} />
        </ComposedChart>
      </div>
    </>
  );
}

const txt = (left: number, top: number, size: number, extra: React.CSSProperties = {}): React.CSSProperties => ({
  position: "absolute",
  left,
  top,
  fontSize: size,
  lineHeight: `${size}px`,
  fontFamily: FONT,
  color: "#111",
  whiteSpace: "nowrap",
  ...extra,
});

const Sub = ({ children }: { children: React.ReactNode }) => (
  <span style={{ fontSize: 10, position: "relative", top: 4, marginLeft: 1 }}>{children}</span>
);

function Swatch({ x, y, fill }: { x: number; y: number; fill: string }) {
  return (
    <svg style={{ position: "absolute", left: x, top: y - 4 }} width={19} height={8}>
      <rect x={0.5} y={0.5} width={17} height={6} rx={2.5} fill={fill} stroke="#6a6a6a" strokeWidth={0.7} />
    </svg>
  );
}

function DataFitRow({ y }: { y: number }) {
  return (
    <>
      <svg style={{ position: "absolute", left: 196, top: y - 4 }} width={82} height={8}>
        <circle cx={6} cy={4} r={2.6} fill="#000" />
        <line x1={62} y1={4} x2={79} y2={4} stroke={FIT} strokeWidth={1.2} />
      </svg>
      <div style={txt(211, y - 7.5, 15)}>Data</div>
      <div style={txt(280, y - 7.5, 15)}>Fit</div>
    </>
  );
}

export default function App() {
  return (
    <div style={{ position: "absolute", left: 0, top: 0, width: W, height: 761, overflow: "hidden", background: "#fff" }}>
      <svg width={0} height={0} style={{ position: "absolute" }}>
        <defs>
          <pattern id="hatchS2" patternUnits="userSpaceOnUse" width={3.6} height={3.6} patternTransform="rotate(45)">
            <rect width={3.6} height={3.6} fill="#f5cfb8" fillOpacity={0.35} />
            <line x1={1} y1={0} x2={1} y2={3.6} stroke="#9c6e66" strokeWidth={1.1} strokeOpacity={0.85} />
          </pattern>
        </defs>
      </svg>

      {/* panel frames */}
      <div style={{ position: "absolute", left: 72, top: -1, width: 317, height: 404, boxSizing: "border-box", border: `1px solid ${AXIS}` }} />
      <div style={{ position: "absolute", left: 72, top: 402, width: 317, height: 303, boxSizing: "border-box", border: `1px solid ${AXIS}` }} />

      <Spectrum top={0} bottom={200} zero={112} pxPer={52.3} sep={95} ticks={[99, 100]} obs={rtObs} obsOdd={rtObsOdd} fit={rtFit}
        comps={[{ pairs: rtS1, fill: col.s1b }, { pairs: rtD, fill: col.dB }, { pairs: rtS2, fill: "url(#hatchS2)" }]} />
      <Spectrum top={200} bottom={312} zero={219} pxPer={83.7} sep={202.7} ticks={[99, 100]} obs={k145Obs} obsOdd={k145ObsOdd} fit={k145Fit}
        comps={[{ pairs: k145S1, fill: col.s1b }, { pairs: k145D, fill: col.dB }, { pairs: k145S2, fill: "url(#hatchS2)" }]} />
      <Spectrum top={305} bottom={402.5} zero={324.3} pxPer={111.3} sep={307.7} ticks={[99.5, 100]} obs={k75Obs} obsOdd={k75ObsOdd} fit={k75Fit} axis="ticks"
        comps={[{ pairs: k75S1, fill: col.s1b }, { pairs: k75D, fill: col.dB }, { pairs: k75S2, fill: "url(#hatchS2)" }]} />
      <Spectrum top={403} bottom={592} zero={495} pxPer={96.7} sep={480.7} ticks={[99.5, 100]} obs={k9Obs} obsOdd={k9ObsOdd} fit={k9Fit}
        comps={[
          { pairs: k9D, fill: col.d, opacity: 0.9 },
          { pairs: k9S3, fill: col.s3, opacity: 0.85 },
          { pairs: k9S2, fill: col.s2, opacity: 0.85 },
          { pairs: k9S4, fill: col.s4, opacity: 0.85 },
          { pairs: k9S1, fill: col.s1, opacity: 0.9 },
          { pairs: k9S5, fill: col.s5 },
        ]} />
      <Spectrum top={591} bottom={704.5} zero={609.3} pxPer={24} sep={593.7} ticks={[98, 100]} obs={k15Obs} obsOdd={k15ObsOdd} fit={k15Fit} axis="labels"
        comps={[
          { pairs: k15D, fill: col.d, opacity: 0.9 },
          { pairs: k15S3, fill: col.s3, opacity: 0.85 },
          { pairs: k15S2, fill: col.s2, opacity: 0.85 },
          { pairs: k15S4, fill: col.s4, opacity: 0.85 },
          { pairs: k15S1, fill: col.s1, opacity: 0.9 },
          { pairs: k15S5, fill: col.s5 },
        ]} />

      {/* panel labels */}
      <div style={txt(81, 7, 23)}>(b)</div>
      <div style={txt(81, 409, 23)}>(c)</div>

      {/* spectrum labels */}
      <div style={txt(82.5, 71, 19)}>R10@RT</div>
      <div style={txt(82.5, 177, 19)}>R10@145K</div>
      <div style={txt(82.5, 284.5, 19)}>R10@75K</div>
      <div style={txt(82.5, 461, 19)}>R10@9K</div>
      <div style={txt(82.5, 571, 19)}>R1@15K</div>

      {/* legend (b) */}
      <DataFitRow y={15.3} />
      <Swatch x={200} y={40.3} fill={col.s1b} />
      <div style={txt(219, 32.3, 15)}>S<Sub>1</Sub></div>
      <Swatch x={258} y={40.3} fill="url(#hatchS2)" />
      <div style={txt(280, 32.3, 15)}>S<Sub>2</Sub></div>
      <Swatch x={309} y={40.3} fill={col.dB} />
      <div style={txt(333, 32.3, 15)}>D</div>

      {/* legend (c) */}
      <DataFitRow y={416.7} />
      <Swatch x={200} y={441} fill={col.s1} />
      <div style={txt(219, 433.5, 15)}>S<Sub>1</Sub></div>
      <Swatch x={258} y={441} fill={col.s2} />
      <div style={txt(280, 433.5, 15)}>S<Sub>2</Sub></div>
      <Swatch x={317} y={441} fill={col.s3} />
      <div style={txt(337, 433.5, 15)}>S<Sub>3</Sub></div>
      <Swatch x={200} y={463.3} fill={col.s4} />
      <div style={txt(219, 457, 15)}>S<Sub>4</Sub></div>
      <Swatch x={258} y={463.3} fill={col.s5} />
      <div style={txt(280, 457, 15)}>S<Sub>5</Sub></div>
      <Swatch x={317} y={463.3} fill={col.d} />
      <div style={txt(337, 457, 15)}>D</div>

      {/* axis titles */}
      <div
        style={txt(15.2 - 160, 373.5 - 9.5, 19, {
          width: 320,
          textAlign: "center",
          fontWeight: "bold",
          transform: "rotate(-90deg)",
          transformOrigin: "50% 50%",
        })}
      >
        Relative Transmission (%)
      </div>
      <div style={txt(136.5, 737, 19, { width: 200, textAlign: "center", fontWeight: "bold" })}>
        Velocity (mm s<span style={{ fontSize: 11, position: "relative", top: -8 }}>-1</span>)
      </div>
    </div>
  );
}
